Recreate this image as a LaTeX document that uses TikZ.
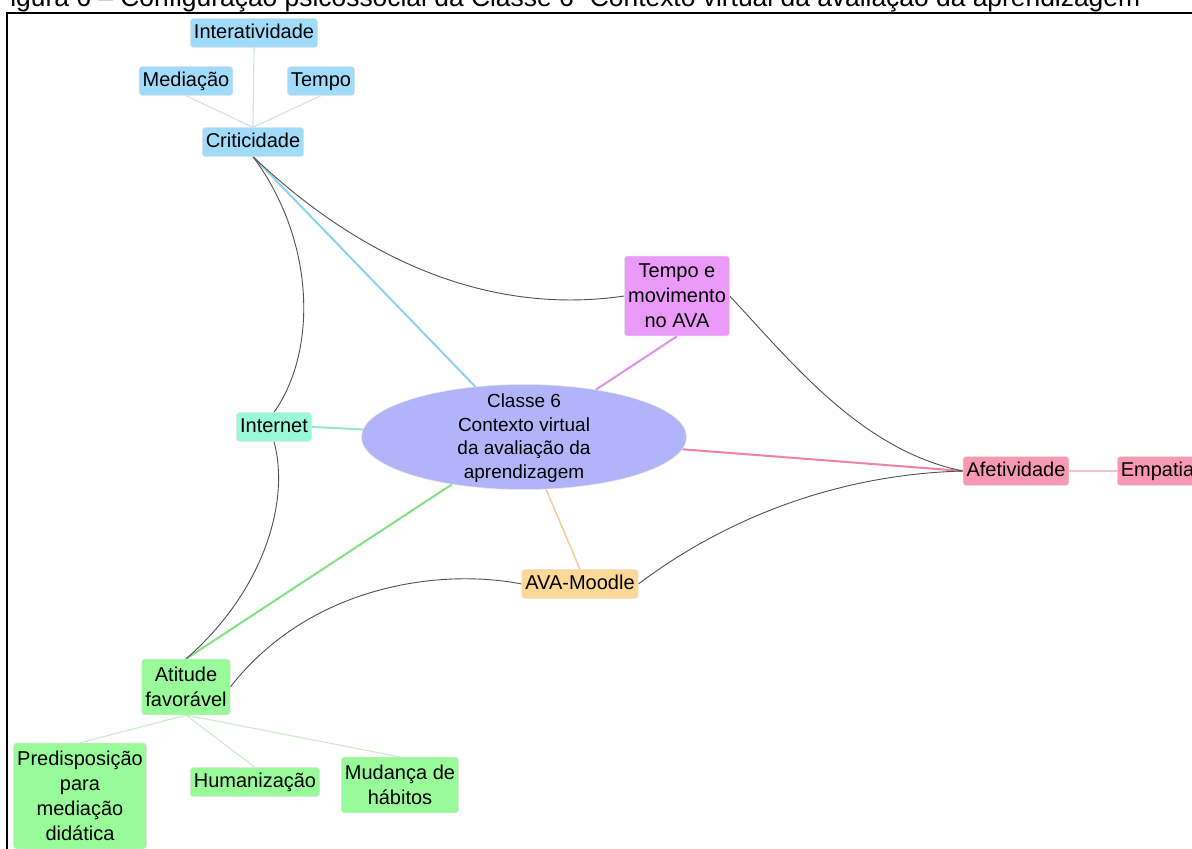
\documentclass[tikz,border=0pt]{standalone}
\usepackage{fontspec}
\setmainfont{Liberation Sans}
\usetikzlibrary{shapes.geometric}
\pgfdeclarelayer{bg}
\pgfsetlayers{bg,main}
\definecolor{cblue}{RGB}{160,220,250}
\definecolor{cviolet}{RGB}{236,154,250}
\definecolor{cell}{RGB}{178,180,250}
\definecolor{cteal}{RGB}{152,250,216}
\definecolor{cpink}{RGB}{248,152,180}
\definecolor{corange}{RGB}{252,216,150}
\definecolor{cgreen}{RGB}{152,250,152}
\definecolor{lblue}{RGB}{140,210,240}
\definecolor{lblueP}{RGB}{200,226,240}
\definecolor{lviolet}{RGB}{222,145,232}
\definecolor{lpink}{RGB}{240,130,162}
\definecolor{lpinkP}{RGB}{246,192,208}
\definecolor{lteal}{RGB}{150,230,205}
\definecolor{lorange}{RGB}{245,205,150}
\definecolor{lgreen}{RGB}{130,225,130}
\definecolor{lgreenP}{RGB}{200,236,200}
\definecolor{curve}{RGB}{80,80,80}
\begin{document}
\begin{tikzpicture}[x=1pt,y=-1pt,
  boxbase/.style={rounded corners=3pt, draw=black!12, line width=0.5pt, inner xsep=3.5pt, align=center},
  onebox/.style={boxbase, inner ysep=5pt, text height=14.6pt, text depth=4.2pt, font=\fontsize{20}{25}\selectfont},
  multibox/.style={boxbase, inner ysep=8pt, font=\fontsize{20}{25}\selectfont},
  thinlink/.style={line width=1.1pt},
  thicklink/.style={line width=2pt},
  link/.style={curve, line width=0.9pt}
]
\useasboundingbox (0,0) rectangle (1192,849);
\begin{pgfonlayer}{bg}
\fill[white] (0,0) rectangle (1192,849);
\end{pgfonlayer}

% title (cut off at top)
\node[anchor=base west, inner sep=0, font=\fontsize{26.4}{30}\selectfont] (title) at (-6,6)
  {Figura 6 – Configuração psicossocial da Classe 6 “Contexto virtual da avaliação da aprendizagem”};

% frame
\draw[line width=2pt] (1195,13) -- (7,13) -- (7,852);

% nodes
\node[ellipse, fill=cell, draw=black!10, line width=0.5pt, minimum width=325pt, minimum height=105pt, inner sep=0] (classe) at (524,437) {};
\node[align=center, inner sep=0, font=\fontsize{19}{23.5}\selectfont] (classetxt) at (524,438)
  {Classe 6\\Contexto virtual\\da avaliação da\\aprendizagem};

\node[onebox, fill=cblue] (inter) at (254,33) {Interatividade};
\node[onebox, fill=cblue] (medi) at (186,81) {Mediação};
\node[onebox, fill=cblue] (tempo) at (321,81) {Tempo};
\node[onebox, fill=cblue] (crit) at (253,142) {Criticidade};
\node[multibox, fill=cviolet] (tmov) at (677,296) {Tempo e\\movimento\\no AVA};
\node[onebox, fill=cteal] (internet) at (274,427) {Internet};
\node[onebox, fill=cpink] (afet) at (1016,471) {Afetividade};
\node[onebox, fill=cpink, anchor=west] (empatia) at (1117,471) {Empatia};
\node[onebox, fill=corange] (ava) at (580,584) {AVA-Moodle};
\node[multibox, fill=cgreen] (atitude) at (186,687) {Atitude\\favorável};
\node[multibox, fill=cgreen] (predisp) at (80,796) {Predisposição\\para\\mediação\\didática};
\node[onebox, fill=cgreen] (human) at (255,782) {Humanização};
\node[multibox, fill=cgreen] (mudanca) at (400,785) {Mudança de\\hábitos};

% connectors (behind nodes)
\begin{pgfonlayer}{bg}
% pale child links
\draw[thinlink, lblueP] (crit.north) -- (inter.south);
\draw[thinlink, lblueP] (crit.north) -- (medi.south);
\draw[thinlink, lblueP] (crit.north) -- (tempo.south);
\draw[thinlink, lpinkP] (afet.east) -- (empatia.west);
\draw[thinlink, lgreenP] (atitude.south) -- (predisp.north);
\draw[thinlink, lgreenP] (atitude.south) -- (human.north);
\draw[thinlink, lgreenP] (atitude.south) -- (mudanca.north);
% coloured links to the centre
\draw[thicklink, lblue] (crit.south) -- (classe);
\draw[thicklink, lviolet] (classe) -- (tmov.south);
\draw[thicklink, lpink] (classe) -- (afet.west);
\draw[thicklink, lteal] (internet.east) -- (classe);
\draw[line width=1.5pt, lorange] (classe) -- (ava.north);
\draw[thicklink, lgreen] (classe) -- (atitude.north);
% black curved links
\draw[link] (crit.south) .. controls (315,240) and (318,350) .. (internet.north);
\draw[link] (internet.south) .. controls (290,500) and (265,590) .. (atitude.north);
\draw[link] (crit.south) .. controls (330,230) and (460,320) .. (tmov.west);
\draw[link] (tmov.east) .. controls (790,360) and (860,450) .. (afet.west);
\draw[link] (ava.east) .. controls (710,530) and (820,475) .. (afet.west);
\draw[link] (ava.west) .. controls (440,568) and (310,585) .. (atitude.east);
\end{pgfonlayer}

\end{tikzpicture}
\end{document}
